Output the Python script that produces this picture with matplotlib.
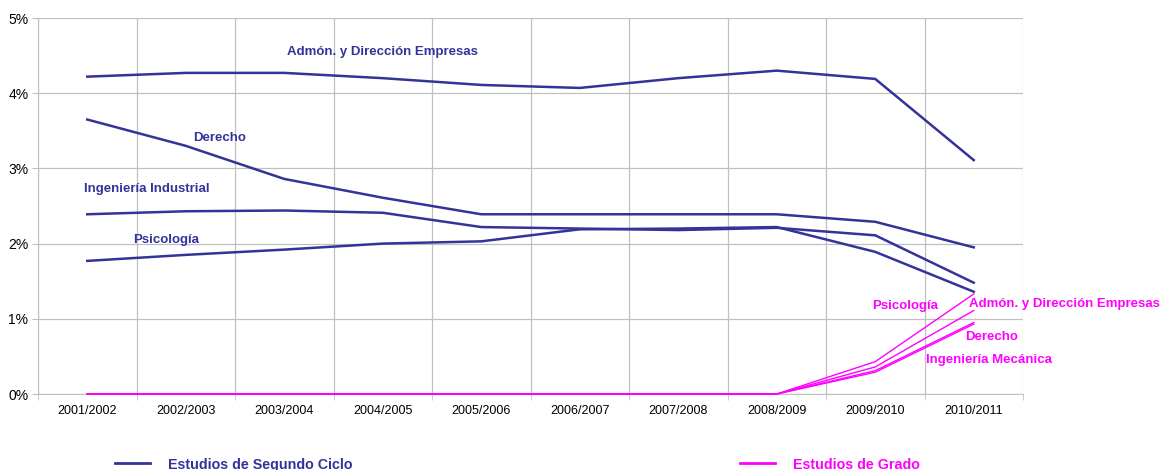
import matplotlib.pyplot as plt
from matplotlib.lines import Line2D
from matplotlib.ticker import FuncFormatter

plt.rcParams['font.family'] = ['Liberation Sans', 'DejaVu Sans']

# Data
years = ['2001/2002', '2002/2003', '2003/2004', '2004/2005', '2005/2006',
         '2006/2007', '2007/2008', '2008/2009', '2009/2010', '2010/2011']

# Estudios de Segundo Ciclo (%)
admon_sc = [4.22, 4.27, 4.27, 4.20, 4.11, 4.07, 4.20, 4.30, 4.19, 3.11]
derecho_sc = [3.65, 3.30, 2.86, 2.61, 2.39, 2.39, 2.39, 2.39, 2.29, 1.95]
ingind_sc = [2.39, 2.43, 2.44, 2.41, 2.22, 2.20, 2.18, 2.21, 2.11, 1.48]
psico_sc = [1.77, 1.85, 1.92, 2.00, 2.03, 2.19, 2.20, 2.22, 1.89, 1.36]

# Estudios de Grado (%)
psico_gr = [0, 0, 0, 0, 0, 0, 0, 0, 0.43, 1.33]
admon_gr = [0, 0, 0, 0, 0, 0, 0, 0, 0.36, 1.11]
derecho_gr = [0, 0, 0, 0, 0, 0, 0, 0, 0.31, 0.95]
ingmec_gr = [0, 0, 0, 0, 0, 0, 0, 0, 0.29, 0.93]

blue = '#333399'
magenta = '#FF00FF'
grid_c = '#C0C0C0'

fig = plt.figure(figsize=(11.62, 4.70), dpi=100)
ax = fig.add_axes([38 / 1162, 76 / 470, (1023 - 38) / 1162, 376 / 470])

x = range(len(years))
for s in [admon_sc, derecho_sc, ingind_sc, psico_sc]:
    ax.plot(x, s, color=blue, lw=1.8, zorder=3)
for s in [psico_gr, admon_gr, derecho_gr, ingmec_gr]:
    ax.plot(x, s, color=magenta, lw=1.0, zorder=4, clip_on=False)

ax.set_xlim(-0.5, len(years) - 0.5)
ax.set_ylim(0, 5)
ax.set_yticks([0, 1, 2, 3, 4, 5])
ax.yaxis.set_major_formatter(FuncFormatter(lambda v, p: '%d%%' % v))
ax.set_xticks(list(x))
ax.set_xticklabels(years)
ax.set_xticks([i - 0.5 for i in range(len(years) + 1)], minor=True)

ax.grid(True, which='major', axis='y', color=grid_c, lw=0.9)
ax.grid(True, which='minor', axis='x', color=grid_c, lw=0.9)
ax.tick_params(axis='x', which='major', length=0, pad=8, labelsize=9)
ax.tick_params(axis='x', which='minor', length=4, color=grid_c)
ax.tick_params(axis='y', length=4, color=grid_c, labelsize=10, pad=3)
for sp in ax.spines.values():
    sp.set_color(grid_c)
ax.spines['top'].set_visible(False)
ax.spines['right'].set_visible(False)

# Series labels
lab = dict(fontsize=9.5, fontweight='bold', ha='center', va='center')
ax.text(3.0, 4.55, 'Admón. y Dirección Empresas', color=blue, **lab)
ax.text(1.34, 3.4, 'Derecho', color=blue, **lab)
ax.text(0.6, 2.73, 'Ingeniería Industrial', color=blue, **lab)
ax.text(0.8, 2.05, 'Psicología', color=blue, **lab)
ax.text(8.3, 1.17, 'Psicología', color=magenta, **lab)
ax.text(9.92, 1.2, 'Admón. y Dirección Empresas', color=magenta, **lab)
ax.text(9.18, 0.76, 'Derecho', color=magenta, **lab)
ax.text(9.15, 0.45, 'Ingeniería Mecánica', color=magenta, **lab)

# Legend
fig.add_artist(Line2D([115 / 1162, 150 / 1162], [7 / 470, 7 / 470], color=blue, lw=2))
fig.text(168 / 1162, 5 / 470, 'Estudios de Segundo Ciclo', color=blue,
         fontsize=10.3, fontweight='bold', va='center')
fig.add_artist(Line2D([740 / 1162, 775 / 1162], [7 / 470, 7 / 470], color=magenta, lw=2))
fig.text(793 / 1162, 5 / 470, 'Estudios de Grado', color=magenta,
         fontsize=10.3, fontweight='bold', va='center')

fig.savefig('out.png', dpi=100)
